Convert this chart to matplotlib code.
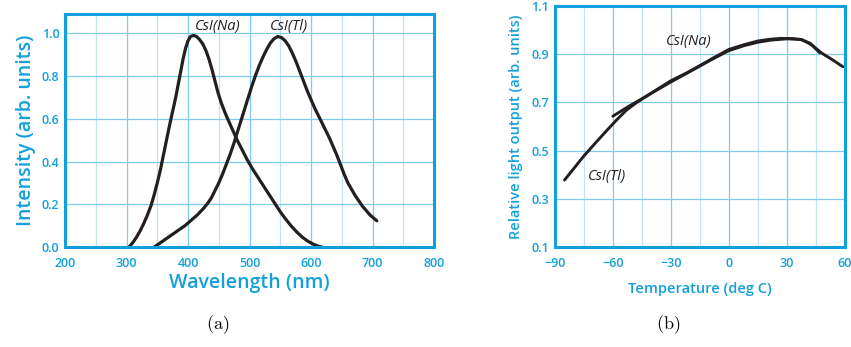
import numpy as np
import matplotlib
matplotlib.use("Agg")
import matplotlib.pyplot as plt

# emission spectra (left panel)
na_wl = [304, 310, 316, 322, 328, 334, 340, 345, 350, 355, 360, 365, 370, 375, 380,
         384, 388, 392, 396, 400, 404, 409, 414, 419, 424, 429, 434, 439, 444, 449,
         454, 460, 466, 473, 480, 488, 496, 505, 514, 523, 532, 541, 550, 559, 568,
         577, 586, 595, 604, 612, 618]
na_int = [0.0, 0.02, 0.045, 0.075, 0.11, 0.15, 0.195, 0.245, 0.30, 0.36, 0.43, 0.50, 0.57, 0.635, 0.70,
          0.76, 0.82, 0.88, 0.93, 0.965, 0.985, 0.99, 0.985, 0.97, 0.95, 0.92, 0.88, 0.83, 0.775, 0.72,
          0.675, 0.63, 0.59, 0.545, 0.50, 0.455, 0.41, 0.365, 0.325, 0.285, 0.245, 0.205, 0.165, 0.13, 0.098,
          0.07, 0.046, 0.027, 0.013, 0.004, 0.0]
tl_wl = [345, 355, 365, 375, 385, 395, 405, 415, 425, 432, 438, 444, 450, 456, 462,
         468, 474, 480, 486, 492, 498, 504, 510, 516, 522, 528, 534, 540, 546, 552,
         558, 564, 570, 576, 582, 588, 594, 600, 606, 612, 618, 624, 630, 636, 642,
         648, 654, 660, 666, 672, 678, 684, 690, 696, 702, 707]
tl_int = [0.0, 0.02, 0.04, 0.06, 0.08, 0.10, 0.125, 0.15, 0.18, 0.205, 0.23, 0.265, 0.30, 0.34, 0.385,
          0.43, 0.48, 0.535, 0.59, 0.645, 0.70, 0.755, 0.805, 0.85, 0.89, 0.925, 0.955, 0.975, 0.985, 0.98,
          0.965, 0.94, 0.905, 0.865, 0.82, 0.775, 0.73, 0.69, 0.65, 0.615, 0.58, 0.545, 0.51, 0.47, 0.43,
          0.385, 0.34, 0.30, 0.27, 0.24, 0.215, 0.19, 0.17, 0.15, 0.135, 0.123]

# light output vs temperature (right panel)
na_temp = [-60, -52, -45, -38, -30, -22, -15, -8, 0, 8, 15, 22, 30, 37, 42, 47]
na_out = [0.643, 0.683, 0.715, 0.748, 0.785, 0.820, 0.851, 0.882, 0.915, 0.936, 0.950, 0.959,
          0.964, 0.962, 0.946, 0.906]
tl_temp = [-85, -80, -75, -69, -63, -58, -53, -48, -43, -36, -30, -22, -15, -8, 0, 8, 15,
           21, 27, 33, 38, 43, 48, 54, 59]
tl_out = [0.378, 0.428, 0.478, 0.532, 0.585, 0.628, 0.668, 0.698, 0.724, 0.760, 0.790, 0.822,
          0.853, 0.885, 0.920, 0.940, 0.955, 0.962, 0.966, 0.965, 0.960, 0.938, 0.905, 0.875, 0.848]

blue = '#12a0dc'
grid_major = '#7dcdef'
grid_minor = '#bde5f6'
ink = '#231f20'

plt.rcParams['font.family'] = ['Open Sans', 'DejaVu Sans']
plt.rcParams['mathtext.fontset'] = 'cm'

fig = plt.figure(figsize=(8.51, 3.47), dpi=100)
ax1 = fig.add_axes([0.0764, 0.288, 0.4336, 0.6715])
ax2 = fig.add_axes([0.652, 0.288, 0.3408, 0.6945])


def style(ax):
    for s in ax.spines.values():
        s.set_color(blue)
        s.set_linewidth(2.2)
    ax.tick_params(which='both', length=0, colors=blue, labelsize=9, pad=4)
    for lab in ax.get_xticklabels() + ax.get_yticklabels():
        lab.set_fontweight('semibold')
    ax.grid(which='major', color=grid_major, lw=0.9)
    ax.grid(which='minor', axis='x', color=grid_minor, lw=0.9)
    ax.set_axisbelow(True)


# (a) emission spectra
ax1.plot(na_wl, na_int, color=ink, lw=2.3, solid_capstyle='round', solid_joinstyle='round')
ax1.plot(tl_wl, tl_int, color=ink, lw=2.3, solid_capstyle='round', solid_joinstyle='round')
ax1.set_xlim(200, 800)
ax1.set_ylim(0, 1.09)
ax1.set_xticks(np.arange(200, 801, 100))
ax1.set_xticks(np.arange(250, 800, 100), minor=True)
ax1.set_yticks(np.arange(0, 1.01, 0.2))
ax1.set_yticklabels(['0.0', '0.2', '0.4', '0.6', '0.8', '1.0'])
style(ax1)
ax1.tick_params(axis='x', pad=7)
ax1.set_xlabel('Wavelength (nm)', color=blue, fontsize=14, fontweight='semibold', labelpad=2)
ax1.set_ylabel('Intensity (arb. units)', color=blue, fontsize=14, fontweight='semibold', labelpad=4)
ax1.text(449, 1.03, 'CsI(Na)', style='italic', color=ink, fontsize=10.5, ha='center', va='center')
ax1.text(564, 1.03, 'CsI(Tl)', style='italic', color=ink, fontsize=10.5, ha='center', va='center')

# (b) temperature dependence
ax2.plot(tl_temp, tl_out, color=ink, lw=2.1, solid_capstyle='round', solid_joinstyle='round')
ax2.plot(na_temp, na_out, color=ink, lw=2.1, solid_capstyle='round', solid_joinstyle='round')
ax2.set_xlim(-90, 60)
ax2.set_ylim(0.1, 1.1)
ax2.set_xticks(np.arange(-90, 61, 30))
ax2.set_xticks(np.arange(-75, 60, 30), minor=True)
ax2.set_yticks([0.1, 0.3, 0.5, 0.7, 0.9, 1.1])
style(ax2)
ax2.tick_params(axis='x', pad=7)
ax2.set_xlabel('Temperature (deg C)', color=blue, fontsize=10.5, fontweight='semibold', labelpad=9)
ax2.set_ylabel('Relative light output (arb. units)', color=blue, fontsize=10.5,
               fontweight='semibold', labelpad=6)
ax2.text(-21, 0.952, 'CsI(Na)', style='italic', color=ink, fontsize=10.5, ha='center', va='center')
ax2.text(-63, 0.392, 'CsI(Tl)', style='italic', color=ink, fontsize=10.5, ha='center', va='center')

fig.text(218 / 851, 1 - 325 / 347, r'$\mathrm{(a)}$', fontsize=13, ha='center', va='center')
fig.text(668 / 851, 1 - 325 / 347, r'$\mathrm{(b)}$', fontsize=13, ha='center', va='center')

fig.savefig('out.png', dpi=100)
